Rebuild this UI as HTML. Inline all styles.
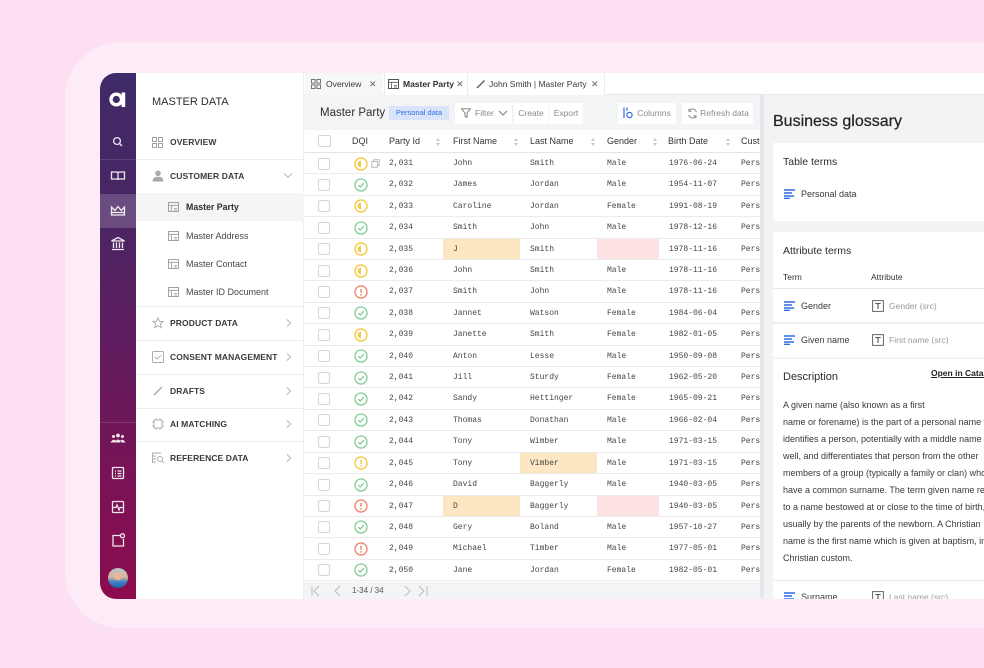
<!DOCTYPE html>
<html><head><meta charset="utf-8">
<style>
*{box-sizing:border-box}
body{margin:0;width:984px;height:668px;overflow:hidden;background:#fce0f2;position:relative;font-family:"Liberation Sans",Arial,sans-serif;color:#333}
.a{position:absolute;white-space:nowrap}
.panel{position:absolute;left:65px;top:42px;width:1000px;height:586px;background:#fdecf7;border-radius:56px}
.rail{position:absolute;left:100px;top:73px;width:36px;height:526px;border-radius:16px 0 0 16px;background:linear-gradient(180deg,#3e2a68 0%,#4d2463 30%,#621b5d 55%,#7a1255 78%,#8c0c4e 100%)}
.nav{position:absolute;left:136px;top:73px;width:168px;height:526px;background:#fff;border-right:1px solid #ececec}
.nv{position:absolute;left:170px;font-size:8.5px;font-weight:bold;color:#3b3b3b;line-height:12px;letter-spacing:0.1px}
.sub{position:absolute;left:186px;font-size:9px;color:#474747;line-height:12px}
.sep{position:absolute;left:136px;width:168px;height:1px;background:#ececec}
.chev{position:absolute;left:285px;width:7px;height:10px}
.main{position:absolute;left:304px;top:73px;width:458px;height:526px;background:#fff;overflow:hidden}
.tabs{position:absolute;left:304px;top:73px;width:680px;height:22px;background:#fff;border-bottom:1px solid #e8e8e8}
.tab{position:absolute;top:0;height:22px;line-height:22px;font-size:8.5px;color:#3a3a3a}
.tb{position:absolute;top:95px;left:304px;width:458px;height:35px;background:#f3f4f6}
.btn{position:absolute;top:103px;height:21px;line-height:21px;background:#fff;font-size:8.5px;color:#8a8a8a;text-align:center}
.hd{position:absolute;top:130px;left:304px;width:456px;height:23px;background:#fff;border-bottom:1px solid #e4e4e4}
.hl{position:absolute;top:0;line-height:23px;font-size:9px;color:#333}
.so{position:absolute;top:8px;width:4px;height:8px}
.rows{position:absolute;left:304px;top:153px;width:456px;height:429px;overflow:hidden}
.r{position:relative;height:21.42px;border-bottom:1px solid #ebebeb;font-family:"Liberation Mono",monospace;font-size:8px;color:#454545}
.r span{position:absolute;top:0;line-height:21px;white-space:nowrap}
.cb{position:absolute;left:14px;top:4.5px;width:12px;height:12px;border:1px solid #d6d6d6;border-radius:2px;background:#fff}
.dq{position:absolute;left:50px;top:3.5px;width:14px;height:14px}
.c1{left:85px}.c2{left:149px}.c3{left:226px}.c4{left:303px}.c5{left:365px}.c6{left:437px}
.of{position:absolute;top:0;height:20.4px;background:#fde6c2}
.pk{position:absolute;top:0;height:20.4px;background:#fde3e3;left:293px;width:62px}
.ft{position:absolute;left:304px;top:582px;width:456px;height:17px;background:#f3f4f6}
.rp{position:absolute;left:762px;top:95px;width:222px;height:504px;background:#f2f3f5;border-left:2px solid #e6e7ea;overflow:hidden}
.card{position:absolute;left:773px;width:220px;background:#fff}
.ct{position:absolute;font-size:10.5px;color:#2c2c2c;line-height:14px}
.dl{position:absolute;left:783px;font-size:9px;color:#3a3a3a;line-height:12px;white-space:nowrap}
</style></head><body>
<svg width="0" height="0" style="position:absolute">
<defs>
<symbol id="mo" viewBox="0 0 14 14"><circle cx="7" cy="7" r="6" fill="none" stroke="#f5cc45" stroke-width="1.4"/><path d="M7 3.6 A3.4 3.4 0 0 0 7 10.4 Z" fill="#f5cc45"/></symbol>
<symbol id="ok" viewBox="0 0 14 14"><circle cx="7" cy="7" r="6" fill="none" stroke="#82cc91" stroke-width="1.3"/><path d="M4.3 7.2 L6.2 9 L9.8 5.2" fill="none" stroke="#82cc91" stroke-width="1.3"/></symbol>
<symbol id="er" viewBox="0 0 14 14"><circle cx="7" cy="7" r="6" fill="none" stroke="#f08a72" stroke-width="1.4"/><path d="M7 3.8 V7.8" stroke="#f08a72" stroke-width="1.5"/><circle cx="7" cy="9.9" r="0.9" fill="#f08a72"/></symbol>
<symbol id="ye" viewBox="0 0 14 14"><circle cx="7" cy="7" r="6" fill="none" stroke="#f5cc45" stroke-width="1.4"/><path d="M7 3.8 V7.8" stroke="#f5cc45" stroke-width="1.5"/><circle cx="7" cy="9.9" r="0.9" fill="#f5cc45"/></symbol>
<symbol id="sr" viewBox="0 0 4 8"><path d="M2 0 L4 3 H0 Z M2 8 L4 5 H0 Z" fill="#c8c8c8"/></symbol>
<symbol id="bl" viewBox="0 0 12 10"><path d="M0 1 H11 M0 4 H8 M0 7 H10 M0 9.3 H6" stroke="#2f6fe0" stroke-width="1.4"/></symbol>
<symbol id="tt" viewBox="0 0 12 12"><rect x="0.6" y="0.6" width="10.8" height="10.8" fill="none" stroke="#666" stroke-width="1"/><path d="M3.3 3.5 H8.7 M6 3.5 V9" stroke="#555" stroke-width="1.1"/></symbol>
<symbol id="ti" viewBox="0 0 12 11"><rect x="0.5" y="0.5" width="10" height="9" fill="none" stroke="#999" stroke-width="0.9"/><path d="M0.5 3.3 H10.5 M3.5 3.3 V9.5" stroke="#999" stroke-width="0.8"/><path d="M6 6.5 H9 M6 8 H9" stroke="#999" stroke-width="0.8"/></symbol>
<symbol id="cr" viewBox="0 0 7 10"><path d="M2 1.5 L5.5 5 L2 8.5" fill="none" stroke="#b5b5b5" stroke-width="1"/></symbol>
</defs></svg>

<div class="panel"></div>

<!-- icon rail -->
<div class="rail"></div>
<div class="a" style="left:100px;top:194px;width:36px;height:34px;background:rgba(255,255,255,0.18)"></div>
<div class="a" style="left:100px;top:159px;width:36px;height:1px;background:rgba(255,255,255,0.14)"></div>
<div class="a" style="left:100px;top:422px;width:36px;height:1px;background:rgba(255,255,255,0.14)"></div>
<svg class="a" style="left:100px;top:73px" width="36" height="526" viewBox="100 73 36 526">
<circle cx="116.3" cy="99.5" r="5.3" fill="none" stroke="#fff" stroke-width="3.4"/>
<rect x="121.6" y="92.5" width="3.6" height="14.5" fill="#fff"/>
<g fill="none" stroke="#fff" stroke-width="1.3" opacity="0.9">
<circle cx="117" cy="141" r="3.4"/><path d="M119.5 143.5 L122 146"/>
<path d="M111.5 172 H116.5 Q118 172 118 173.5 V180 Q118 179 116.5 179 H111.5 Z M124.5 172 H119.5 Q118 172 118 173.5 V180 Q118 179 119.5 179 H124.5 Z"/>
<path d="M111.5 215 V207 L114.8 210.5 L118 206.5 L121.2 210.5 L124.5 207 V215 Z M111.5 212.5 H124.5"/>
<path d="M111.5 241 L118 237.5 L124.5 241 Z M112 249.5 H124 M113.5 242.5 V248 M116.5 242.5 V248 M119.5 242.5 V248 M122.5 242.5 V248"/>
<rect x="112.5" y="467.5" width="11" height="11" rx="1"/><path d="M115 471 H116 M117.5 471 H121.5 M115 473.5 H116 M117.5 473.5 H121.5 M115 476 H116 M117.5 476 H121.5"/>
<rect x="112.5" y="501.5" width="11" height="11" rx="1"/><path d="M113 507.5 H116 L117 505 L119 510 L120 507.5 H123"/>
<path d="M120 535.5 H113 V546 H123.5 V539"/><circle cx="122.5" cy="535.8" r="2"/>
</g>
<g fill="#fff" opacity="0.9"><circle cx="118" cy="435.5" r="1.9"/><circle cx="113.5" cy="436.5" r="1.5"/><circle cx="122.5" cy="436.5" r="1.5"/><path d="M114.5 442.5 Q118 436.5 121.5 442.5 Z M110.5 442.5 Q113.5 438 116 441 L115.5 442.5 Z M125.5 442.5 Q122.5 438 120 441 L120.5 442.5 Z"/></g>
<defs><linearGradient id="av" x1="0" y1="0" x2="0" y2="1"><stop offset="0" stop-color="#b9c6cf"/><stop offset="0.45" stop-color="#d9b49a"/><stop offset="0.7" stop-color="#3f7fc4"/><stop offset="1" stop-color="#1f5fa8"/></linearGradient></defs>
<circle cx="118" cy="578" r="10" fill="url(#av)"/>
<circle cx="118" cy="576" r="4.2" fill="#e4b99b"/>
</svg>

<!-- nav panel -->
<div class="nav"></div>
<div class="a" style="left:152px;top:95px;font-size:11px;line-height:14px;color:#2e2e2e">MASTER DATA</div>
<svg class="a" style="left:152px;top:137px" width="11" height="11"><g fill="none" stroke="#999" stroke-width="0.9"><rect x="0.5" y="0.5" width="4" height="4"/><rect x="6.5" y="0.5" width="4" height="4"/><rect x="0.5" y="6.5" width="4" height="4"/><rect x="6.5" y="6.5" width="4" height="4"/></g></svg>
<div class="nv" style="top:136px">OVERVIEW</div>
<div class="sep" style="top:159px"></div>
<svg class="a" style="left:152px;top:170px" width="12" height="12"><circle cx="6" cy="3.3" r="2.8" fill="#aaa"/><path d="M0.5 11.5 Q0.5 6.8 6 6.8 Q11.5 6.8 11.5 11.5 Z" fill="#aaa"/></svg>
<div class="nv" style="top:170px">CUSTOMER DATA</div>
<svg class="a" style="left:283px;top:172px" width="10" height="7"><path d="M1 1.5 L5 5.2 L9 1.5" fill="none" stroke="#b5b5b5" stroke-width="1"/></svg>
<div class="a" style="left:136px;top:193px;width:168px;height:28px;background:#f4f5f7"></div>
<svg class="a" style="left:168px;top:202px" width="12" height="11"><use href="#ti"/></svg>
<div class="sub" style="top:201px;color:#2e2e2e;font-weight:bold;font-size:8.8px">Master Party</div>
<svg class="a" style="left:168px;top:231px" width="12" height="11"><use href="#ti"/></svg>
<div class="sub" style="top:230px">Master Address</div>
<svg class="a" style="left:168px;top:259px" width="12" height="11"><use href="#ti"/></svg>
<div class="sub" style="top:258px">Master Contact</div>
<svg class="a" style="left:168px;top:287px" width="12" height="11"><use href="#ti"/></svg>
<div class="sub" style="top:286px">Master ID Document</div>
<div class="sep" style="top:306px"></div>
<svg class="a" style="left:152px;top:317px" width="12" height="12"><path d="M6 0.8 L7.5 4.3 L11.2 4.5 L8.3 6.9 L9.3 10.7 L6 8.6 L2.7 10.7 L3.7 6.9 L0.8 4.5 L4.5 4.3 Z" fill="none" stroke="#aaa" stroke-width="0.9"/></svg>
<div class="nv" style="top:317px">PRODUCT DATA</div>
<svg class="chev" style="top:318px"><use href="#cr"/></svg>
<div class="sep" style="top:340px"></div>
<svg class="a" style="left:152px;top:351px" width="12" height="12"><rect x="0.5" y="0.5" width="11" height="11" rx="1" fill="none" stroke="#aaa" stroke-width="0.9"/><path d="M3 6 L5.2 8 L9 4" fill="none" stroke="#aaa" stroke-width="0.9"/></svg>
<div class="nv" style="top:351px">CONSENT MANAGEMENT</div>
<svg class="chev" style="top:352px"><use href="#cr"/></svg>
<div class="sep" style="top:374px"></div>
<svg class="a" style="left:152px;top:385px" width="12" height="12"><path d="M2 10 L10 2" stroke="#aaa" stroke-width="1.4"/></svg>
<div class="nv" style="top:385px">DRAFTS</div>
<svg class="chev" style="top:386px"><use href="#cr"/></svg>
<div class="sep" style="top:408px"></div>
<svg class="a" style="left:152px;top:418px" width="12" height="12"><rect x="2" y="2" width="8" height="8" fill="none" stroke="#aaa" stroke-width="0.9"/><path d="M4 0 V2 M8 0 V2 M4 10 V12 M8 10 V12 M0 4 H2 M0 8 H2 M10 4 H12 M10 8 H12" stroke="#aaa" stroke-width="0.8"/></svg>
<div class="nv" style="top:418px">AI MATCHING</div>
<svg class="chev" style="top:419px"><use href="#cr"/></svg>
<div class="sep" style="top:441px"></div>
<svg class="a" style="left:152px;top:452px" width="13" height="12"><path d="M0.5 1 H9 M0.5 4 H4 M0.5 7 H4 M0.5 10 H4 M0.5 1 V11" stroke="#aaa" stroke-width="0.9" fill="none"/><circle cx="8" cy="7" r="2.6" fill="none" stroke="#aaa" stroke-width="0.9"/><path d="M10 9 L12 11" stroke="#aaa" stroke-width="0.9"/></svg>
<div class="nv" style="top:452px">REFERENCE DATA</div>
<svg class="chev" style="top:453px"><use href="#cr"/></svg>

<!-- main -->
<div class="main"></div>
<div class="tabs"></div>
<div class="a" style="left:305px;top:73px;width:78px;height:22px;background:#f7f7f8"></div>
<div class="a" style="left:384px;top:73px;width:84px;height:22px;background:#fff;border-left:1px solid #ececec;border-right:1px solid #ececec"></div>
<div class="a" style="left:469px;top:73px;width:136px;height:22px;background:#fff;border-right:1px solid #ececec"></div>
<svg class="a" style="left:311px;top:79px" width="10" height="10"><g fill="none" stroke="#666" stroke-width="0.9"><rect x="0.5" y="0.5" width="3.6" height="3.6"/><rect x="5.9" y="0.5" width="3.6" height="3.6"/><rect x="0.5" y="5.9" width="3.6" height="3.6"/><rect x="5.9" y="5.9" width="3.6" height="3.6"/></g></svg>
<div class="tab" style="left:326px;top:73px">Overview</div>
<div class="tab" style="left:369px;top:73px;color:#666;font-size:9px">✕</div>
<svg class="a" style="left:388px;top:79px" width="12" height="11"><rect x="0.5" y="0.5" width="10" height="9" fill="none" stroke="#555"/><path d="M0.5 3.3 H10.5 M3.5 3.3 V9.5 M6 6.5 H9 M6 8 H9" stroke="#555" stroke-width="0.8"/></svg>
<div class="tab" style="left:403px;top:73px;font-weight:bold;color:#2e2e2e">Master Party</div>
<div class="tab" style="left:456px;top:73px;color:#666;font-size:9px">✕</div>
<svg class="a" style="left:476px;top:79px" width="10" height="10"><path d="M1 9 L8.5 1.5" stroke="#666" stroke-width="1.5"/></svg>
<div class="tab" style="left:489px;top:73px">John Smith | Master Party</div>
<div class="tab" style="left:591px;top:73px;color:#666;font-size:9px">✕</div>

<div class="tb"></div>
<div class="a" style="left:320px;top:105px;font-size:11.5px;line-height:16px;color:#2e2e2e">Master Party</div>
<div class="a" style="left:389px;top:106px;width:60px;height:14px;background:#d9e4fb;color:#2f6fe0;font-size:7.5px;line-height:14px;text-align:center">Personal data</div>
<div class="btn" style="left:455px;width:57px"></div>
<svg class="a" style="left:461px;top:108px" width="10" height="10"><path d="M0.5 0.8 H9.5 L6 5 V9.5 L4 8.3 V5 Z" fill="none" stroke="#777" stroke-width="0.9"/></svg>
<div class="a" style="left:475px;top:103px;font-size:8.5px;line-height:21px;color:#8a8a8a">Filter</div>
<svg class="a" style="left:498px;top:110px" width="10" height="7"><path d="M1 1 L5 5 L9 1" fill="none" stroke="#777" stroke-width="1"/></svg>
<div class="btn" style="left:514px;width:34px">Create</div>
<div class="btn" style="left:549px;width:34px">Export</div>
<div class="btn" style="left:618px;width:58px;padding-left:14px">Columns</div>
<svg class="a" style="left:623px;top:107px" width="10" height="12"><path d="M1 0.5 V11 M4 0.5 V4" stroke="#2f6fe0" stroke-width="1.2"/><circle cx="6.5" cy="8" r="2.6" fill="none" stroke="#2f6fe0" stroke-width="1.2"/></svg>
<div class="btn" style="left:682px;width:71px;padding-left:14px">Refresh data</div>
<svg class="a" style="left:687px;top:108px" width="11" height="11"><path d="M9.3 4 A4 4 0 0 0 2 3 M1.7 7 A4 4 0 0 0 9 8" fill="none" stroke="#888" stroke-width="1"/><path d="M2 0.8 V3.3 H4.5 M9 10.2 V7.7 H6.5" fill="none" stroke="#888" stroke-width="1"/></svg>

<div class="hd">
<div class="cb" style="left:14px;top:5px;width:13px;height:12px"></div>
<div class="hl" style="left:48px">DQI</div>
<div class="hl" style="left:85px">Party Id</div>
<svg class="so" style="left:132px"><use href="#sr"/></svg>
<div class="hl" style="left:149px">First Name</div>
<svg class="so" style="left:210px"><use href="#sr"/></svg>
<div class="hl" style="left:226px">Last Name</div>
<svg class="so" style="left:287px"><use href="#sr"/></svg>
<div class="hl" style="left:303px">Gender</div>
<svg class="so" style="left:349px"><use href="#sr"/></svg>
<div class="hl" style="left:364px">Birth Date</div>
<svg class="so" style="left:422px"><use href="#sr"/></svg>
<div class="hl" style="left:437px">Customer</div>
</div>

<div class="rows">
<div class="r"><div class="cb"></div><svg class="dq"><use href="#mo"/></svg><svg style="position:absolute;left:67px;top:6px" width="9" height="9"><path d="M2.5 2.5 V0.8 H8.2 V6.5 H6.5 M0.8 2.5 H6.5 V8.2 H0.8 Z" fill="none" stroke="#aaa" stroke-width="0.8"/></svg><span class="c1">2,031</span><span class="c2">John</span><span class="c3">Smith</span><span class="c4">Male</span><span class="c5">1976-06-24</span><span class="c6">Person</span></div>
<div class="r"><div class="cb"></div><svg class="dq"><use href="#ok"/></svg><span class="c1">2,032</span><span class="c2">James</span><span class="c3">Jordan</span><span class="c4">Male</span><span class="c5">1954-11-07</span><span class="c6">Person</span></div>
<div class="r"><div class="cb"></div><svg class="dq"><use href="#mo"/></svg><span class="c1">2,033</span><span class="c2">Caroline</span><span class="c3">Jordan</span><span class="c4">Female</span><span class="c5">1991-08-19</span><span class="c6">Person</span></div>
<div class="r"><div class="cb"></div><svg class="dq"><use href="#ok"/></svg><span class="c1">2,034</span><span class="c2">Smith</span><span class="c3">John</span><span class="c4">Male</span><span class="c5">1978-12-16</span><span class="c6">Person</span></div>
<div class="r"><div class="of" style="left:139px;width:77px"></div><div class="pk"></div><div class="cb"></div><svg class="dq"><use href="#mo"/></svg><span class="c1">2,035</span><span class="c2">J</span><span class="c3">Smith</span><span class="c5">1978-11-16</span><span class="c6">Person</span></div>
<div class="r"><div class="cb"></div><svg class="dq"><use href="#mo"/></svg><span class="c1">2,036</span><span class="c2">John</span><span class="c3">Smith</span><span class="c4">Male</span><span class="c5">1978-11-16</span><span class="c6">Person</span></div>
<div class="r"><div class="cb"></div><svg class="dq"><use href="#er"/></svg><span class="c1">2,037</span><span class="c2">Smith</span><span class="c3">John</span><span class="c4">Male</span><span class="c5">1978-11-16</span><span class="c6">Person</span></div>
<div class="r"><div class="cb"></div><svg class="dq"><use href="#ok"/></svg><span class="c1">2,038</span><span class="c2">Jannet</span><span class="c3">Watson</span><span class="c4">Female</span><span class="c5">1984-06-04</span><span class="c6">Person</span></div>
<div class="r"><div class="cb"></div><svg class="dq"><use href="#mo"/></svg><span class="c1">2,039</span><span class="c2">Janette</span><span class="c3">Smith</span><span class="c4">Female</span><span class="c5">1982-01-05</span><span class="c6">Person</span></div>
<div class="r"><div class="cb"></div><svg class="dq"><use href="#ok"/></svg><span class="c1">2,040</span><span class="c2">Anton</span><span class="c3">Lesse</span><span class="c4">Male</span><span class="c5">1950-09-08</span><span class="c6">Person</span></div>
<div class="r"><div class="cb"></div><svg class="dq"><use href="#ok"/></svg><span class="c1">2,041</span><span class="c2">Jill</span><span class="c3">Sturdy</span><span class="c4">Female</span><span class="c5">1962-05-20</span><span class="c6">Person</span></div>
<div class="r"><div class="cb"></div><svg class="dq"><use href="#ok"/></svg><span class="c1">2,042</span><span class="c2">Sandy</span><span class="c3">Hettinger</span><span class="c4">Female</span><span class="c5">1965-09-21</span><span class="c6">Person</span></div>
<div class="r"><div class="cb"></div><svg class="dq"><use href="#ok"/></svg><span class="c1">2,043</span><span class="c2">Thomas</span><span class="c3">Donathan</span><span class="c4">Male</span><span class="c5">1966-02-04</span><span class="c6">Person</span></div>
<div class="r"><div class="cb"></div><svg class="dq"><use href="#ok"/></svg><span class="c1">2,044</span><span class="c2">Tony</span><span class="c3">Wimber</span><span class="c4">Male</span><span class="c5">1971-03-15</span><span class="c6">Person</span></div>
<div class="r"><div class="of" style="left:216px;width:77px"></div><div class="cb"></div><svg class="dq"><use href="#ye"/></svg><span class="c1">2,045</span><span class="c2">Tony</span><span class="c3">Vimber</span><span class="c4">Male</span><span class="c5">1971-03-15</span><span class="c6">Person</span></div>
<div class="r"><div class="cb"></div><svg class="dq"><use href="#ok"/></svg><span class="c1">2,046</span><span class="c2">David</span><span class="c3">Baggerly</span><span class="c4">Male</span><span class="c5">1940-03-05</span><span class="c6">Person</span></div>
<div class="r"><div class="of" style="left:139px;width:77px"></div><div class="pk"></div><div class="cb"></div><svg class="dq"><use href="#er"/></svg><span class="c1">2,047</span><span class="c2">D</span><span class="c3">Baggerly</span><span class="c5">1940-03-05</span><span class="c6">Person</span></div>
<div class="r"><div class="cb"></div><svg class="dq"><use href="#ok"/></svg><span class="c1">2,048</span><span class="c2">Gery</span><span class="c3">Boland</span><span class="c4">Male</span><span class="c5">1957-10-27</span><span class="c6">Person</span></div>
<div class="r"><div class="cb"></div><svg class="dq"><use href="#er"/></svg><span class="c1">2,049</span><span class="c2">Michael</span><span class="c3">Timber</span><span class="c4">Male</span><span class="c5">1977-05-01</span><span class="c6">Person</span></div>
<div class="r"><div class="cb"></div><svg class="dq"><use href="#ok"/></svg><span class="c1">2,050</span><span class="c2">Jane</span><span class="c3">Jordan</span><span class="c4">Female</span><span class="c5">1982-05-01</span><span class="c6">Person</span></div>
</div>

<div class="ft"></div>
<svg class="a" style="left:310px;top:585px" width="130" height="12"><g fill="none" stroke="#bbb" stroke-width="1"><path d="M2 1 V11 M9 1 L4 6 L9 11"/><path d="M30 1 L25 6 L30 11"/><path d="M95 1 L100 6 L95 11"/><path d="M109 1 L114 6 L109 11 M117 1 V11"/></g></svg>
<div class="a" style="left:352px;top:584px;font-size:8px;line-height:13px;color:#555">1-34 / 34</div>
<div class="a" style="left:760px;top:95px;width:3px;height:504px;background:#e6e7ea"></div>

<!-- right panel -->
<div class="rp"></div>
<div class="a" style="left:773px;top:112px;font-size:16px;line-height:20px;color:#262626;-webkit-text-stroke:0.25px #262626">Business glossary</div>
<div class="card" style="top:143px;height:78px"></div>
<div class="ct" style="left:783px;top:155px">Table terms</div>
<svg class="a" style="left:784px;top:189px" width="12" height="10"><use href="#bl"/></svg>
<div class="a" style="left:801px;top:188px;font-size:9px;line-height:12px;color:#3a3a3a">Personal data</div>
<div class="card" style="top:232px;height:125px"></div>
<div class="ct" style="left:783px;top:244px">Attribute terms</div>
<div class="a" style="left:783px;top:271px;font-size:8.5px;line-height:12px;color:#333">Term</div>
<div class="a" style="left:871px;top:271px;font-size:8.5px;line-height:12px;color:#333">Attribute</div>
<div class="a" style="left:773px;top:288px;width:220px;height:1px;background:#e8e8e8"></div>
<svg class="a" style="left:784px;top:301px" width="12" height="10"><use href="#bl"/></svg>
<div class="a" style="left:801px;top:300px;font-size:9px;line-height:12px;color:#3a3a3a">Gender</div>
<svg class="a" style="left:872px;top:300px" width="12" height="12"><use href="#tt"/></svg>
<div class="a" style="left:889px;top:300px;font-size:8.5px;line-height:12px;color:#9a9a9a">Gender (src)</div>
<div class="a" style="left:773px;top:322px;width:220px;height:2px;background:#eceef0"></div>
<svg class="a" style="left:784px;top:335px" width="12" height="10"><use href="#bl"/></svg>
<div class="a" style="left:801px;top:334px;font-size:9px;line-height:12px;color:#3a3a3a">Given name</div>
<svg class="a" style="left:872px;top:334px" width="12" height="12"><use href="#tt"/></svg>
<div class="a" style="left:889px;top:334px;font-size:8.5px;line-height:12px;color:#9a9a9a">First name (src)</div>
<div class="card" style="top:359px;height:240px"></div>
<div class="ct" style="left:783px;top:370px;font-size:11px">Description</div>
<div class="a" style="left:931px;top:367px;font-size:8.5px;line-height:12px;font-weight:bold;color:#222;text-decoration:underline">Open in Catalog</div>
<div class="dl" style="top:399px">A given name (also known as a first</div>
<div class="dl" style="top:416px">name or forename) is the part of a personal name that</div>
<div class="dl" style="top:433px">identifies a person, potentially with a middle name as</div>
<div class="dl" style="top:450px">well, and differentiates that person from the other</div>
<div class="dl" style="top:467px">members of a group (typically a family or clan) who</div>
<div class="dl" style="top:484px">have a common surname. The term given name refers</div>
<div class="dl" style="top:501px">to a name bestowed at or close to the time of birth,</div>
<div class="dl" style="top:518px">usually by the parents of the newborn. A Christian</div>
<div class="dl" style="top:535px">name is the first name which is given at baptism, in</div>
<div class="dl" style="top:552px">Christian custom.</div>
<div class="a" style="left:773px;top:580px;width:220px;height:1px;background:#e8e8e8"></div>
<svg class="a" style="left:784px;top:592px" width="12" height="10"><use href="#bl"/></svg>
<div class="a" style="left:801px;top:591px;font-size:9px;line-height:12px;color:#3a3a3a">Surname</div>
<svg class="a" style="left:872px;top:591px" width="12" height="12"><use href="#tt"/></svg>
<div class="a" style="left:889px;top:591px;font-size:8.5px;line-height:12px;color:#9a9a9a">Last name (src)</div>

<!-- bottom clip of window -->
<div class="a" style="left:136px;top:599px;width:860px;height:30px;background:#fdecf7"></div>
<div class="a" style="left:0;top:628px;width:984px;height:40px;background:#fce0f2"></div>
</body></html>
